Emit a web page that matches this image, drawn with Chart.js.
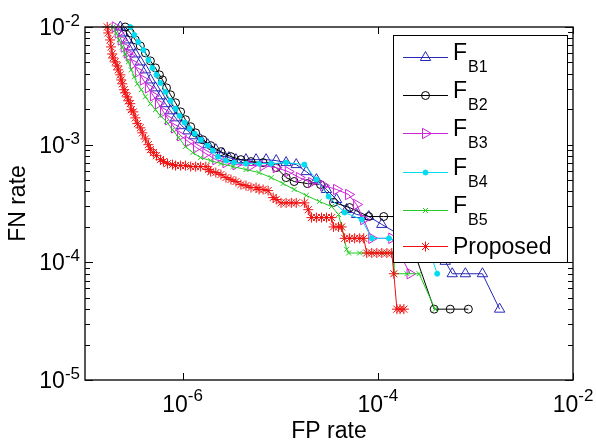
<!DOCTYPE html>
<html><head><meta charset="utf-8">
<script src="https://cdn.jsdelivr.net/npm/chart.js@4.4.0/dist/chart.umd.min.js"></script>
<style>html,body{margin:0;padding:0;background:#fff;}#wrap{width:596px;height:446px;position:relative;}</style>
</head><body><div id="wrap"><canvas id="c" width="596" height="446"></canvas></div>
<script>
// ---- data (FP rate, FN rate) ----
const fb1X = [2.30e-7,2.47e-7,2.71e-7,2.98e-7,3.28e-7,3.69e-7,4.16e-7,4.68e-7,5.27e-7,5.93e-7,6.68e-7,7.52e-7,8.47e-7,9.77e-7,1.13e-6,1.30e-6,1.53e-6,1.81e-6,2.19e-6,2.59e-6,2.98e-6,3.52e-6,4.46e-6,5.66e-6,7.17e-6,9.10e-6,1.15e-5,1.46e-5,1.85e-5,2.35e-5,2.98e-5,3.78e-5,4.79e-5,6.07e-5,8.08e-5,1.10e-4,4.91e-4,5.79e-4,7.89e-4,1.18e-3,1.77e-3];
const fb1Y = [1.00e-2,8.90e-3,7.76e-3,6.77e-3,5.90e-3,5.05e-3,4.32e-3,3.55e-3,3.04e-3,2.60e-3,2.23e-3,1.94e-3,1.69e-3,1.45e-3,1.31e-3,1.19e-3,1.10e-3,1.00e-3,9.07e-4,8.39e-4,7.76e-4,7.46e-4,7.46e-4,7.46e-4,7.46e-4,7.32e-4,7.04e-4,6.77e-4,5.90e-4,5.05e-4,4.16e-4,3.42e-4,2.81e-4,2.55e-4,2.45e-4,2.10e-4,1.02e-4,8.0e-5,8.0e-5,8.0e-5,4.0e-5];

const fb2X = [2.58e-7,2.91e-7,3.28e-7,3.69e-7,4.16e-7,4.68e-7,5.27e-7,5.79e-7,6.22e-7,6.84e-7,7.52e-7,8.47e-7,9.54e-7,1.07e-6,1.21e-6,1.36e-6,1.61e-6,1.94e-6,2.47e-6,3.13e-6,3.96e-6,5.02e-6,6.68e-6,9.10e-6,1.15e-5,1.39e-5,1.90e-5,2.59e-5,3.52e-5,5.14e-5,8.08e-5,1.15e-4,1.77e-4,3.78e-4,5.52e-4,8.47e-4];
const fb2Y = [1.00e-2,8.90e-3,7.76e-3,6.90e-3,6.02e-3,5.15e-3,4.49e-3,3.92e-3,3.55e-3,3.04e-3,2.65e-3,2.27e-3,1.90e-3,1.63e-3,1.42e-3,1.26e-3,1.10e-3,9.81e-4,8.72e-4,7.91e-4,7.46e-4,7.18e-4,7.04e-4,6.38e-4,5.25e-4,4.86e-4,4.67e-4,4.58e-4,3.23e-4,2.92e-4,2.45e-4,2.45e-4,2.45e-4,4.0e-5,4.0e-5,4.0e-5];

const fb3X = [2.04e-7,2.19e-7,2.35e-7,2.52e-7,2.71e-7,2.84e-7,3.13e-7,3.52e-7,3.96e-7,4.46e-7,5.02e-7,5.66e-7,6.37e-7,7.17e-7,8.27e-7,9.54e-7,1.15e-6,1.39e-6,1.73e-6,2.19e-6,2.78e-6,3.52e-6,5.02e-6,6.68e-6,9.10e-6,1.21e-5,1.57e-5,2.09e-5,2.78e-5,3.78e-5,5.02e-5,6.07e-5,7.17e-5,8.67e-5,1.39e-4,2.14e-4];
const fb3Y = [1.00e-2,8.90e-3,7.76e-3,6.77e-3,6.02e-3,5.68e-3,4.86e-3,4.16e-3,3.55e-3,3.04e-3,2.60e-3,2.23e-3,1.90e-3,1.63e-3,1.39e-3,1.19e-3,1.06e-3,9.43e-4,8.39e-4,7.46e-4,7.04e-4,6.77e-4,6.64e-4,6.64e-4,6.38e-4,5.90e-4,5.25e-4,4.76e-4,4.49e-4,4.16e-4,3.77e-4,3.10e-4,2.31e-4,1.60e-4,1.60e-4,8.0e-5];

const fb4X = [2.91e-7,3.20e-7,3.52e-7,3.96e-7,4.46e-7,4.91e-7,5.40e-7,5.93e-7,6.68e-7,7.52e-7,8.47e-7,9.31e-7,1.05e-6,1.18e-6,1.33e-6,1.53e-6,1.81e-6,2.04e-6,2.30e-6,2.78e-6,3.36e-6,4.46e-6,6.07e-6,8.08e-6,1.15e-5,1.77e-5,2.35e-5,3.13e-5,4.57e-5,6.84e-5,8.67e-5,1.30e-4,3.44e-4,4.06e-4];
const fb4Y = [1.00e-2,8.56e-3,7.46e-3,6.38e-3,5.25e-3,4.49e-3,3.92e-3,3.35e-3,2.81e-3,2.36e-3,2.02e-3,1.76e-3,1.54e-3,1.37e-3,1.24e-3,1.10e-3,9.81e-4,8.90e-4,7.91e-4,7.32e-4,7.04e-4,6.90e-4,6.90e-4,6.90e-4,7.04e-4,6.77e-4,5.05e-4,3.62e-4,2.65e-4,2.31e-4,1.60e-4,1.60e-4,1.20e-4,8.0e-5];

const fb5X = [1.94e-7,2.09e-7,2.24e-7,2.41e-7,2.58e-7,2.78e-7,2.98e-7,3.20e-7,3.44e-7,3.78e-7,4.16e-7,4.68e-7,5.27e-7,5.93e-7,6.84e-7,7.89e-7,9.10e-7,1.07e-6,1.27e-6,1.53e-6,1.94e-6,2.47e-6,3.28e-6,4.46e-6,6.07e-6,8.08e-6,1.07e-5,1.39e-5,1.85e-5,2.52e-5,3.36e-5,3.96e-5,4.26e-5,4.79e-5,5.02e-5,6.52e-5,8.67e-5,1.15e-4,1.46e-4,1.46e-4,1.99e-4,2.65e-4,3.87e-4];
const fb5Y = [1.00e-2,8.90e-3,7.76e-3,6.77e-3,5.90e-3,5.05e-3,4.32e-3,3.77e-3,3.29e-3,2.93e-3,2.55e-3,2.23e-3,1.98e-3,1.76e-3,1.57e-3,1.34e-3,1.15e-3,9.62e-4,8.56e-4,7.76e-4,7.32e-4,6.90e-4,6.51e-4,6.14e-4,5.79e-4,5.25e-4,4.67e-4,4.16e-4,3.70e-4,3.29e-4,2.98e-4,2.55e-4,2.00e-4,1.29e-4,1.20e-4,1.20e-4,1.20e-4,1.20e-4,1.20e-4,8.0e-5,8.0e-5,8.0e-5,4.0e-5];

const propX = [1.69e-7,1.73e-7,1.81e-7,1.85e-7,1.90e-7,1.94e-7,2.04e-7,2.14e-7,2.19e-7,2.30e-7,2.35e-7,2.41e-7,2.52e-7,2.58e-7,2.71e-7,2.78e-7,2.91e-7,2.98e-7,3.13e-7,3.28e-7,3.44e-7,3.69e-7,3.87e-7,4.16e-7,4.46e-7,4.68e-7,5.02e-7,5.40e-7,5.93e-7,6.37e-7,7.01e-7,7.89e-7,8.47e-7,9.54e-7,1.07e-6,1.21e-6,1.36e-6,1.53e-6,1.73e-6,1.85e-6,1.94e-6,2.19e-6,2.47e-6,2.78e-6,3.13e-6,3.52e-6,3.96e-6,4.46e-6,5.02e-6,5.66e-6,6.07e-6,6.68e-6,7.52e-6,8.47e-6,9.10e-6,1.02e-5,1.15e-5,1.30e-5,1.46e-5,1.77e-5,1.94e-5,2.09e-5,2.35e-5,2.65e-5,2.98e-5,3.36e-5,3.52e-5,3.96e-5,4.26e-5,4.57e-5,5.14e-5,5.79e-5,6.52e-5,7.17e-5,7.70e-5,8.67e-5,9.77e-5,1.10e-4,1.24e-4,1.39e-4,1.46e-4,1.57e-4,1.69e-4,1.85e-4];
const propY = [1.00e-2,8.90e-3,7.76e-3,6.77e-3,5.90e-3,5.46e-3,5.05e-3,4.67e-3,4.32e-3,3.92e-3,3.55e-3,3.29e-3,2.93e-3,2.76e-3,2.55e-3,2.36e-3,2.23e-3,1.98e-3,1.90e-3,1.69e-3,1.51e-3,1.39e-3,1.26e-3,1.12e-3,1.00e-3,9.07e-4,8.56e-4,8.07e-4,7.46e-4,7.18e-4,6.90e-4,6.77e-4,6.64e-4,6.64e-4,6.64e-4,6.51e-4,6.51e-4,6.51e-4,6.51e-4,6.14e-4,5.90e-4,5.79e-4,5.57e-4,5.25e-4,5.05e-4,4.86e-4,4.58e-4,4.49e-4,4.32e-4,4.32e-4,4.16e-4,4.16e-4,4.07e-4,3.55e-4,3.42e-4,3.20e-4,3.20e-4,3.20e-4,3.20e-4,3.20e-4,2.80e-4,2.40e-4,2.40e-4,2.40e-4,2.40e-4,2.40e-4,2.00e-4,2.00e-4,2.00e-4,1.60e-4,1.60e-4,1.60e-4,1.60e-4,1.60e-4,1.20e-4,1.20e-4,1.20e-4,1.20e-4,1.20e-4,1.20e-4,8.0e-5,4.0e-5,4.0e-5,4.0e-5];

const legendMain = ['F','F','F','F','F','Proposed'];
const legendSub = ['B1','B2','B3','B4','B5',''];
const xTickValues = [1e-6,1e-4,1e-2];
const xTickExps = ['-6','-4','-2'];
const yTickValues = [1e-2,1e-3,1e-4,1e-5];
const yTickExps = ['-2','-3','-4','-5'];
const xTitle = 'FP rate';
const yTitle = 'FN rate';

// ---- styles ----
const NONE = 'rgba(0,0,0,0)';
const styles = [
  {color:'#2828b8', style:'triangle', r:6, rot:0, fill:NONE},
  {color:'#000000', style:'circle', r:4, rot:0, fill:NONE},
  {color:'#cc22d8', style:'triangle', r:6, rot:90, fill:NONE},
  {color:'#00dcf0', style:'circle', r:2.5, rot:0, fill:'#00dcf0'},
  {color:'#22cc22', style:'crossRot', r:3.5, rot:0, fill:NONE},
  {color:'#f01010', style:'star', r:5, rot:0, fill:NONE}
];
const seriesX = [fb1X,fb2X,fb3X,fb4X,fb5X,propX];
const seriesY = [fb1Y,fb2Y,fb3Y,fb4Y,fb5Y,propY];
const labels = legendMain.map((m,i)=>m+(legendSub[i]?'_'+legendSub[i]:''));

const datasets = seriesX.map((xs,i)=>{
  const s = styles[i];
  return {
    label: labels[i],
    data: xs.map((x,j)=>({x:x, y:seriesY[i][j]})),
    showLine: true, borderColor: s.color, backgroundColor: s.fill, borderWidth: 1,
    pointStyle: s.style, pointRadius: s.r, pointRotation: s.rot,
    pointBorderColor: s.color, pointBackgroundColor: s.fill, pointBorderWidth: 1,
    tension: 0, order: 6-i, clip: 10
  };
});

const FONT = '"Liberation Sans", Arial, sans-serif';

function drawMarker(ctx, s, x, y){
  ctx.strokeStyle = s.color; ctx.fillStyle = s.fill; ctx.lineWidth = 1;
  if (Chart.helpers && Chart.helpers.drawPoint) {
    Chart.helpers.drawPoint(ctx, {pointStyle:s.style, radius:s.r, rotation:s.rot, borderWidth:1}, x, y);
  } else {
    ctx.beginPath(); ctx.arc(x,y,s.r,0,Math.PI*2); ctx.fill(); ctx.stroke();
  }
}

const matlabPlugin = {
  id: 'matlabLook',
  afterDatasetsDraw(chart){
    const ctx = chart.ctx, a = chart.chartArea, xs = chart.scales.x, ys = chart.scales.y;
    ctx.save();
    // ticks
    ctx.strokeStyle = '#000'; ctx.lineWidth = 1;
    ctx.beginPath();
    for (let d=-5; d<-2; d++) for (let m=2; m<=9; m++) {
      const py = Math.round(ys.getPixelForValue(m*Math.pow(10,d)))+0.5;
      ctx.moveTo(a.left, py); ctx.lineTo(a.left+5, py);
      ctx.moveTo(a.right, py); ctx.lineTo(a.right-5, py);
    }
    yTickValues.forEach(v=>{
      const py = Math.round(ys.getPixelForValue(v))+0.5;
      ctx.moveTo(a.left, py); ctx.lineTo(a.left+8, py);
      ctx.moveTo(a.right, py); ctx.lineTo(a.right-8, py);
    });
    xTickValues.forEach(v=>{
      const px = Math.round(xs.getPixelForValue(v))+0.5;
      ctx.moveTo(px, a.bottom); ctx.lineTo(px, a.bottom-7);
      ctx.moveTo(px, a.top); ctx.lineTo(px, a.top+7);
    });
    ctx.stroke();
    // box
    ctx.lineWidth = 1.4; ctx.strokeStyle = '#111';
    ctx.strokeRect(a.left, a.top, a.right-a.left, a.bottom-a.top);

    // tick labels
    ctx.fillStyle = '#000'; ctx.textBaseline = 'alphabetic'; ctx.textAlign = 'left';
    const bf = '23px '+FONT, ef = '17px '+FONT;
    xTickValues.forEach((v,i)=>{
      const px = xs.getPixelForValue(v);
      ctx.font = bf; const w1 = ctx.measureText('10').width;
      ctx.font = ef; const w2 = ctx.measureText(xTickExps[i]).width;
      const st = px - (w1+w2)/2;
      ctx.font = bf; ctx.fillText('10', st, a.bottom+32);
      ctx.font = ef; ctx.fillText(xTickExps[i], st+w1, a.bottom+21);
    });
    yTickValues.forEach((v,i)=>{
      const py = ys.getPixelForValue(v);
      ctx.font = ef; const w2 = ctx.measureText(yTickExps[i]).width;
      ctx.font = bf; const w1 = ctx.measureText('10').width;
      const right = a.left-5;
      ctx.fillText('10', right-w2-w1, py+8);
      ctx.font = ef; ctx.fillText(yTickExps[i], right-w2, py-1);
    });
    // axis titles
    ctx.font = '23px '+FONT; ctx.textAlign = 'center';
    ctx.fillText(xTitle, (a.left+a.right)/2, 438);
    ctx.save();
    ctx.translate(25, (a.top+a.bottom)/2);
    ctx.rotate(-Math.PI/2);
    ctx.fillText(yTitle, 0, 0);
    ctx.restore();

    // legend
    const lx = 393, ly = 35, lw = 174, lh = 227;
    ctx.fillStyle = '#fff'; ctx.fillRect(lx, ly, lw, lh);
    ctx.strokeStyle = '#000'; ctx.lineWidth = 1;
    ctx.strokeRect(lx+0.5, ly+0.5, lw, lh);
    const rows = [57,95,133,172,210,246];
    rows.forEach((ry,i)=>{
      const s = styles[i];
      ctx.strokeStyle = s.color; ctx.lineWidth = 1;
      ctx.beginPath(); ctx.moveTo(403, ry+0.5); ctx.lineTo(448, ry+0.5); ctx.stroke();
      drawMarker(ctx, s, 425.5, ry+0.5);
      ctx.fillStyle = '#000'; ctx.textAlign = 'left';
      if (legendSub[i]) {
        ctx.font = '23px '+FONT;
        const w = ctx.measureText(legendMain[i]).width;
        ctx.fillText(legendMain[i], 453, ry+3);
        ctx.font = '16px '+FONT;
        ctx.fillText(legendSub[i], 453+w+1, ry+15);
      } else {
        ctx.font = '23px '+FONT;
        ctx.fillText(legendMain[i], 453, ry+8);
      }
    });
    ctx.restore();
  }
};

new Chart(document.getElementById('c'), {
  type: 'scatter',
  data: { datasets: datasets },
  options: {
    responsive: false, animation: false, devicePixelRatio: 1,
    layout: { padding: { left: 85, right: 23, top: 27, bottom: 66 } },
    plugins: { legend: { display: false }, tooltip: { enabled: false } },
    scales: {
      x: { type: 'logarithmic', min: 1e-7, max: 1e-2, display: false },
      y: { type: 'logarithmic', min: 1e-5, max: 1e-2, display: false }
    }
  },
  plugins: [matlabPlugin]
});
</script>
</body></html>
